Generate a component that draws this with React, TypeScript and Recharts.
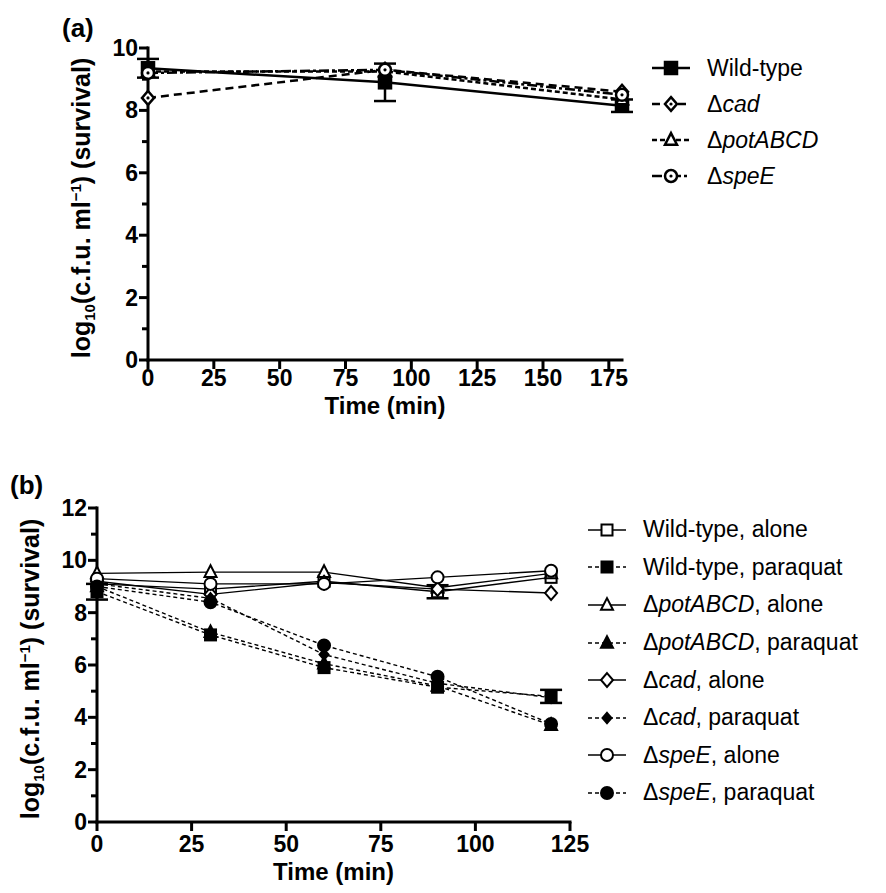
import React from 'react'
import { LineChart, Line, XAxis, YAxis, Legend, ErrorBar } from 'recharts'

// ---- panel (a): survival without stress ----
const TIMES_A = [0, 90, 180]
const WILD_TYPE_A = [9.35, 8.9, 8.15]
const WILD_TYPE_A_ERR = [0.3, 0.6, 0.2]
const CAD_A = [8.4, 9.3, 8.6]
const POT_A = [9.25, 9.25, 8.35]
const SPEE_A = [9.2, 9.3, 8.5]
const X_TICKS_A = [0, 25, 50, 75, 100, 125, 150, 175]
const Y_TICKS_A = [0, 1, 2, 3, 4, 5, 6, 7, 8, 9, 10]
const LABELS_A = ['Wild-type', 'Δcad', 'ΔpotABCD', 'ΔspeE']

// ---- panel (b): alone vs paraquat ----
const TIMES_B = [0, 30, 60, 90, 120]
const WT_ALONE = [9.1, 8.9, 9.2, 8.8, 9.35]
const WT_ALONE_ERR = [null, null, null, 0.25, null]
const WT_PARAQUAT = [8.8, 7.15, 5.9, 5.15, 4.8]
const WT_PARAQUAT_ERR = [0.3, null, null, null, 0.25]
const POT_ALONE = [9.5, 9.55, 9.55, 8.95, 9.5]
const POT_PARAQUAT = [9.0, 7.25, 6.05, 5.2, 3.7]
const CAD_ALONE = [9.2, 8.7, 9.15, 8.9, 8.75]
const CAD_PARAQUAT = [9.1, 8.55, 6.4, 5.3, 4.75]
const SPEE_ALONE = [9.3, 9.1, 9.1, 9.35, 9.6]
const SPEE_PARAQUAT = [9.0, 8.4, 6.75, 5.55, 3.75]
const SPEE_PARAQUAT_ERR = [null, 0.3, null, null, 0.3]
const X_TICKS_B = [0, 25, 50, 75, 100, 125]
const Y_TICKS_B = [0, 1, 2, 3, 4, 5, 6, 7, 8, 9, 10, 11, 12]
const LABELS_B = [
  'Wild-type, alone',
  'Wild-type, paraquat',
  'ΔpotABCD, alone',
  'ΔpotABCD, paraquat',
  'Δcad, alone',
  'Δcad, paraquat',
  'ΔspeE, alone',
  'ΔspeE, paraquat',
]

const dataA = TIMES_A.map((t, i) => ({
  time: t,
  wt: WILD_TYPE_A[i],
  wtErr: WILD_TYPE_A_ERR[i],
  cad: CAD_A[i],
  pot: POT_A[i],
  spe: SPEE_A[i],
}))

const dataB = TIMES_B.map((t, i) => ({
  time: t,
  wtAlone: WT_ALONE[i],
  wtAloneErr: WT_ALONE_ERR[i],
  wtPq: WT_PARAQUAT[i],
  wtPqErr: WT_PARAQUAT_ERR[i],
  potAlone: POT_ALONE[i],
  potPq: POT_PARAQUAT[i],
  cadAlone: CAD_ALONE[i],
  cadPq: CAD_PARAQUAT[i],
  speAlone: SPEE_ALONE[i],
  spePq: SPEE_PARAQUAT[i],
  spePqErr: SPEE_PARAQUAT_ERR[i],
}))

const FONT = '"Liberation Sans", Arial, Helvetica, sans-serif'

type Shape = 'square' | 'diamond' | 'triangle' | 'circle'
type Series = {
  key: string
  label: string
  shape: Shape
  filled: boolean
  dot?: boolean
  dash?: string
  size: number
  err?: string
}

const seriesA: Series[] = [
  { key: 'wt', label: LABELS_A[0], shape: 'square', filled: true, size: 12, err: 'wtErr' },
  { key: 'cad', label: LABELS_A[1], shape: 'diamond', filled: false, dot: true, dash: '8 5', size: 12 },
  { key: 'pot', label: LABELS_A[2], shape: 'triangle', filled: false, dash: '5 3', size: 12 },
  { key: 'spe', label: LABELS_A[3], shape: 'circle', filled: false, dot: true, dash: '10 3 3 3', size: 12 },
]

const seriesB: Series[] = [
  { key: 'wtAlone', label: LABELS_B[0], shape: 'square', filled: false, size: 11, err: 'wtAloneErr' },
  { key: 'wtPq', label: LABELS_B[1], shape: 'square', filled: true, dash: '4 3', size: 11, err: 'wtPqErr' },
  { key: 'potAlone', label: LABELS_B[2], shape: 'triangle', filled: false, size: 12 },
  { key: 'potPq', label: LABELS_B[3], shape: 'triangle', filled: true, dash: '4 3', size: 12 },
  { key: 'cadAlone', label: LABELS_B[4], shape: 'diamond', filled: false, size: 12 },
  { key: 'cadPq', label: LABELS_B[5], shape: 'diamond', filled: true, dash: '4 3', size: 9 },
  { key: 'speAlone', label: LABELS_B[6], shape: 'circle', filled: false, size: 12 },
  { key: 'spePq', label: LABELS_B[7], shape: 'circle', filled: true, dash: '4 3', size: 12 },
]

function Marker({ cx, cy, s, sw }: { cx: number; cy: number; s: Series; sw: number }) {
  const r = s.size / 2
  const fill = s.filled ? '#000' : '#fff'
  let shape
  if (s.shape === 'square') {
    shape = <rect x={cx - r} y={cy - r} width={s.size} height={s.size} fill={fill} stroke="#000" strokeWidth={sw} />
  } else if (s.shape === 'diamond') {
    shape = (
      <polygon
        points={`${cx},${cy - r * 1.15} ${cx + r},${cy} ${cx},${cy + r * 1.15} ${cx - r},${cy}`}
        fill={fill}
        stroke="#000"
        strokeWidth={sw}
      />
    )
  } else if (s.shape === 'triangle') {
    shape = (
      <polygon
        points={`${cx},${cy - r * 1.15} ${cx + r},${cy + r * 0.8} ${cx - r},${cy + r * 0.8}`}
        fill={fill}
        stroke="#000"
        strokeWidth={sw}
      />
    )
  } else {
    shape = <circle cx={cx} cy={cy} r={r} fill={fill} stroke="#000" strokeWidth={sw} />
  }
  return (
    <g>
      {shape}
      {s.dot && <circle cx={cx} cy={cy} r={1.6} fill="#000" />}
    </g>
  )
}

const makeDot = (s: Series, sw: number) => (props: any) => (
  <Marker key={`${s.key}-${props.index}`} cx={props.cx} cy={props.cy} s={s} sw={sw} />
)

function GeneLabel({ text }: { text: string }) {
  if (!text.startsWith('Δ')) return <>{text}</>
  const comma = text.indexOf(',')
  const gene = comma === -1 ? text.slice(1) : text.slice(1, comma)
  const rest = comma === -1 ? '' : text.slice(comma)
  return (
    <>
      Δ<i>{gene}</i>
      {rest}
    </>
  )
}

// legend keeps the series order (recharts sorts its payload by name otherwise)
const makeLegend = (series: Series[], rowH: number, lineW: number, sw: number) => (props: any) => {
  const keys = new Set((props.payload || []).map((e: any) => e.dataKey))
  return (
    <div style={{ fontFamily: FONT, fontSize: 23, color: '#000' }}>
      {series
        .filter((s) => keys.has(s.key))
        .map((s) => (
          <div key={s.key} style={{ display: 'flex', alignItems: 'center', height: rowH, whiteSpace: 'nowrap' }}>
            <svg width={38} height={20} style={{ overflow: 'visible' }}>
              <line x1={0} x2={38} y1={10} y2={10} stroke="#000" strokeWidth={lineW} strokeDasharray={s.dash} />
              <Marker cx={19} cy={10} s={s} sw={sw} />
            </svg>
            <span style={{ marginLeft: 17 }}>
              <GeneLabel text={s.label} />
            </span>
          </div>
        ))}
    </div>
  )
}

const YTick = (props: any) => {
  const { x, y, payload } = props
  const major = payload.value % 2 === 0
  const len = major ? 9 : 6
  return (
    <g>
      <line x1={x} x2={x - len} y1={y} y2={y} stroke="#000" strokeWidth={3} />
      {major && (
        <text x={x - len - 1} y={y + 8} textAnchor="end" fontFamily={FONT} fontWeight="bold" fontSize={23} fill="#000">
          {payload.value}
        </text>
      )}
    </g>
  )
}

const XTick = (props: any) => {
  const { x, y, payload, labelDy = 30 } = props
  return (
    <g>
      <line x1={x} x2={x} y1={y} y2={y + 9} stroke="#000" strokeWidth={3} />
      <text x={x} y={y + labelDy} textAnchor="middle" fontFamily={FONT} fontWeight="bold" fontSize={23} fill="#000">
        {payload.value}
      </text>
    </g>
  )
}

const YTitle = (props: any) => {
  const { viewBox } = props
  const cx = viewBox.x + viewBox.width - 58
  const cy = viewBox.y + viewBox.height / 2 + 4
  return (
    <text
      x={cx}
      y={cy}
      transform={`rotate(-90, ${cx}, ${cy})`}
      textAnchor="middle"
      fontFamily={FONT}
      fontWeight="bold"
      fontSize={25}
      fill="#000"
    >
      log
      <tspan fontSize={15} dy={5}>
        10
      </tspan>
      <tspan dy={-5}>(c.f.u. ml</tspan>
      <tspan fontSize={15} dy={-9}>
        −1
      </tspan>
      <tspan dy={9}>) (survival)</tspan>
    </text>
  )
}

const XTitle = (props: any) => {
  const { viewBox, dy = 58 } = props
  return (
    <text
      x={viewBox.x + viewBox.width / 2}
      y={viewBox.y + dy}
      textAnchor="middle"
      fontFamily={FONT}
      fontWeight="bold"
      fontSize={24}
      fill="#000"
    >
      Time (min)
    </text>
  )
}

const axisLine = { stroke: '#000', strokeWidth: 3, strokeLinecap: 'square' as const }

export default function App() {
  return (
    <div style={{ position: 'absolute', left: 0, top: 0, width: 886, height: 893, background: '#fff', fontFamily: FONT }}>
      <div style={{ position: 'absolute', left: 62, top: 13, fontWeight: 'bold', fontSize: 26 }}>(a)</div>
      <div style={{ position: 'absolute', left: 10, top: 470, fontWeight: 'bold', fontSize: 26 }}>(b)</div>

      <div style={{ position: 'absolute', left: 0, top: 0 }}>
        <LineChart width={886} height={430} data={dataA} margin={{ top: 48, right: 264, bottom: 30, left: 78 }}>
          <XAxis
            dataKey="time"
            type="number"
            domain={[0, 180]}
            ticks={X_TICKS_A}
            height={40}
            tickSize={0}
            tickMargin={0}
            tickLine={false}
            axisLine={axisLine}
            tick={<XTick labelDy={26} />}
            interval={0}
            label={{ content: <XTitle dy={54} /> }}
          />
          <YAxis
            type="number"
            domain={[0, 10]}
            ticks={Y_TICKS_A}
            width={70}
            tickSize={0}
            tickMargin={0}
            tickLine={false}
            axisLine={axisLine}
            tick={<YTick />}
            interval={0}
            label={{ content: <YTitle /> }}
          />
          {seriesA.map((s) => (
            <Line
              key={s.key}
              dataKey={s.key}
              stroke="#000"
              strokeWidth={2.5}
              strokeDasharray={s.dash}
              dot={makeDot(s, 2.5)}
              activeDot={false}
              isAnimationActive={false}
            >
              {s.err && (
                <ErrorBar dataKey={s.err} direction="y" width={11} stroke="#000" strokeWidth={2.5} isAnimationActive={false} />
              )}
            </Line>
          ))}
          <Legend
            layout="vertical"
            align="center"
            verticalAlign="middle"
            content={makeLegend(seriesA, 36, 2.5, 2.5)}
            wrapperStyle={{ left: 652, top: 50, width: 230 }}
          />
        </LineChart>
      </div>

      <div style={{ position: 'absolute', left: 0, top: 440 }}>
        <LineChart width={886} height={453} data={dataB} margin={{ top: 68, right: 316, bottom: 31, left: 27 }}>
          <XAxis
            dataKey="time"
            type="number"
            domain={[0, 125]}
            ticks={X_TICKS_B}
            height={40}
            tickSize={0}
            tickMargin={0}
            tickLine={false}
            axisLine={axisLine}
            tick={<XTick labelDy={30} />}
            interval={0}
            label={{ content: <XTitle dy={58} /> }}
          />
          <YAxis
            type="number"
            domain={[0, 12]}
            ticks={Y_TICKS_B}
            width={70}
            tickSize={0}
            tickMargin={0}
            tickLine={false}
            axisLine={axisLine}
            tick={<YTick />}
            interval={0}
            label={{ content: <YTitle /> }}
          />
          {seriesB.map((s) => (
            <Line
              key={s.key}
              dataKey={s.key}
              stroke="#000"
              strokeWidth={1.4}
              strokeDasharray={s.dash}
              dot={makeDot(s, 2)}
              activeDot={false}
              isAnimationActive={false}
            >
              {s.err && (
                <ErrorBar dataKey={s.err} direction="y" width={11} stroke="#000" strokeWidth={2.5} isAnimationActive={false} />
              )}
            </Line>
          ))}
          <Legend
            layout="vertical"
            align="center"
            verticalAlign="middle"
            content={makeLegend(seriesB, 37.6, 1.4, 2)}
            wrapperStyle={{ left: 588, top: 71, width: 296 }}
          />
        </LineChart>
      </div>
    </div>
  )
}
